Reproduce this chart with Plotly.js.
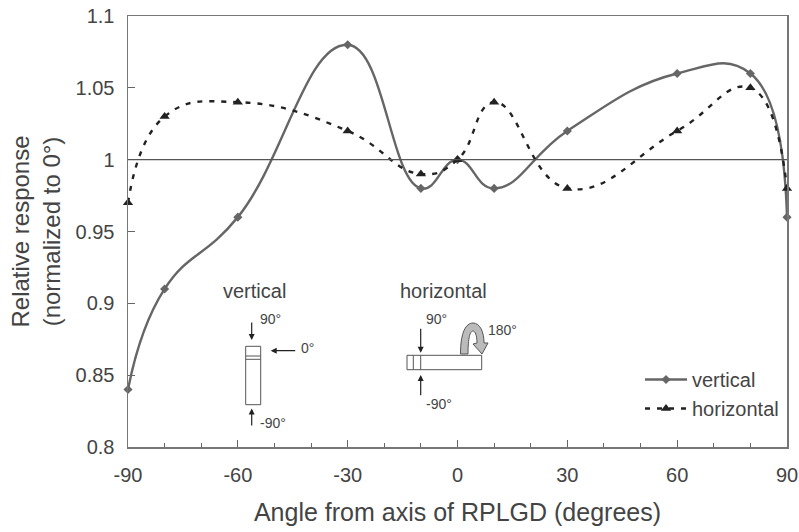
<!DOCTYPE html>
<html><head><meta charset="utf-8">
<script src="https://cdn.plot.ly/plotly-3.0.1.min.js"></script>
<style>html,body{margin:0;padding:0;background:#fff}</style></head>
<body><div id="chart" style="width:799px;height:532px"></div>
<script>
const angles = [-90,-80,-60,-30,-10,0,10,30,60,80,90];
const verticalResponse = [0.84,0.91,0.96,1.08,0.98,1.00,0.98,1.02,1.06,1.06,0.96];
const horizontalResponse = [0.97,1.03,1.04,1.02,0.99,1.00,1.04,0.98,1.02,1.05,0.98];
const xTicks = [-90,-60,-30,0,30,60,90];
const yTicks = [0.8,0.85,0.9,0.95,1,1.05,1.1];
const yTickLabels = ['0.8','0.85','0.9','0.95','1','1.05','1.1'];

const W=799,H=532,L=128,R=787,T=16,B=447;
const px=x=>(x-L)/(R-L), py=y=>(B-y)/(B-T);
const ink='#444', fontFam='"Liberation Sans",Arial,sans-serif';

function rect(x0,y0,x1,y1){return {type:'rect',xref:'paper',yref:'paper',x0:px(x0),x1:px(x1),y0:py(y0),y1:py(y1),line:{color:'#555',width:1}};}
function seg(x0,y0,x1,y1){return {type:'line',xref:'paper',yref:'paper',x0:px(x0),x1:px(x1),y0:py(y0),y1:py(y1),line:{color:'#555',width:1}};}
function label(text,x,y,size,anchor){return {text,xref:'paper',yref:'paper',x:px(x),y:py(y),showarrow:false,xanchor:anchor||'left',yanchor:'middle',font:{family:fontFam,size,color:ink}};}
function arrow(x0,y0,x1,y1){return {xref:'paper',yref:'paper',axref:'pixel',ayref:'pixel',x:px(x1),y:py(y1),ax:x0-x1,ay:y0-y1,text:'',showarrow:true,arrowhead:2,arrowsize:1,arrowwidth:1.2,arrowcolor:'#222',standoff:0,startstandoff:0};}
function curve(points){
  return points.map(p=>p.map((v,i)=>typeof v==='number'?(i%2?px(v):py(v)):v).join(' ')).join(' ');
}
const bend={type:'path',xref:'paper',yref:'paper',fillcolor:'#bbb',line:{color:'#555',width:1},
  path:curve([['M',460.5,354],['C',460.5,332,466,323,473,323],['C',480,323,484,332,484,343],['L',488,343],['L',482,354],['L',473,344],['L',477,343],['C',477,335,475,331,473,331],['C',470,331,468,338,468,354],['Z']])};

const shapes=[
  {type:'line',xref:'paper',yref:'y',x0:0,x1:1,y0:1,y1:1,line:{color:'#555',width:1.2}},
  rect(245.7,346.3,260.7,404.7), seg(245.7,356,260.7,356), seg(245.7,359.3,260.7,359.3),
  rect(407,355.3,481.7,369.7), seg(413.3,355.3,413.3,369.7), seg(420.7,355.3,420.7,369.7),
  bend
];
const annotations=[
  label('vertical',254,291,20,'center'), label('horizontal',443,291,20,'center'),
  label('90°',258,319,14), label('0°',299,348,14), label('-90°',258,423,14),
  label('90°',424,319,14), label('180°',486,330,14), label('-90°',424,404,14),
  arrow(251.7,321,251.7,340), arrow(296.7,350.7,270.7,350.7), arrow(251.7,427,251.7,408.5),
  arrow(420.7,327.3,420.7,352.7), arrow(420.7,396.7,420.7,375)
];

const traces=[
 {x:angles,y:verticalResponse,name:'vertical',mode:'lines+markers',cliponaxis:false,
  line:{color:'#666',width:2.4,shape:'spline',smoothing:1.3},marker:{symbol:'diamond',size:7,color:'#666'}},
 {x:angles,y:horizontalResponse,name:'horizontal',mode:'lines+markers',cliponaxis:false,
  line:{color:'#222',width:2.4,shape:'spline',smoothing:1.3,dash:'5px,7px'},marker:{symbol:'triangle-up',size:9,color:'#222'}}
];
const layout={
  width:W,height:H,autosize:false,showlegend:true,paper_bgcolor:'#fff',plot_bgcolor:'#fff',
  margin:{l:L,r:W-R,t:T,b:H-B,pad:0},
  font:{family:fontFam,color:ink},
  xaxis:{range:[-90,90],tickvals:xTicks,ticktext:xTicks.map(String),ticks:'inside',ticklen:7,tickcolor:'#666',ticklabelstandoff:9,
    minor:{dtick:10,ticks:'inside',ticklen:4,tickcolor:'#666',showgrid:false},
    showgrid:false,zeroline:false,showline:true,linecolor:'#777',linewidth:1.5,mirror:true,
    tickfont:{size:20,color:ink},title:{text:'Angle from axis of RPLGD (degrees)',font:{size:25,color:ink},standoff:19},automargin:false},
  yaxis:{range:[0.8,1.1],tickvals:yTicks,ticktext:yTickLabels,ticks:'inside',ticklen:7,tickcolor:'#666',ticklabelstandoff:8,
    showgrid:false,zeroline:false,showline:true,linecolor:'#777',linewidth:1.5,mirror:true,
    tickfont:{size:20,color:ink},title:{text:'Relative response<br>(normalized to 0°)',font:{size:24,color:ink},standoff:8},automargin:false},
  legend:{x:px(640),y:py(360),xanchor:'left',yanchor:'top',bgcolor:'rgba(0,0,0,0)',borderwidth:0,itemwidth:42,tracegroupgap:0,font:{size:20,color:ink}},
  shapes,annotations
};
Plotly.newPlot('chart',traces,layout,{displayModeBar:false,staticPlot:true});
</script></body></html>
